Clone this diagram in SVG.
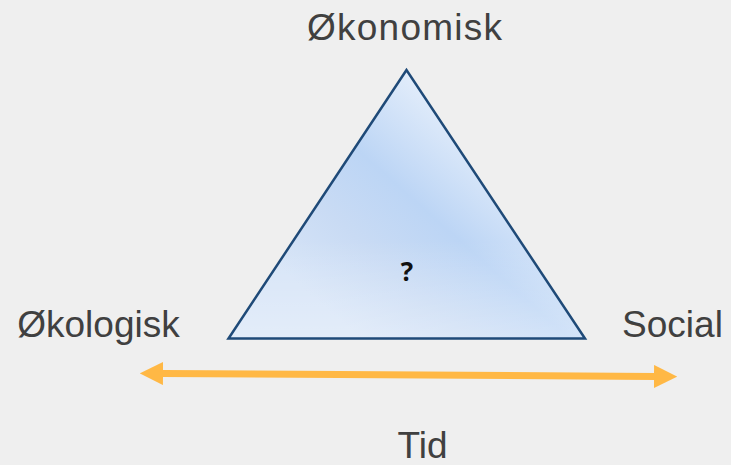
<svg xmlns="http://www.w3.org/2000/svg" width="731" height="465" viewBox="0 0 731 465">
<style>
.lbl{font-family:"Liberation Sans",Arial,sans-serif;font-size:37px;fill:#404040}
.q{font-family:"Open Sans","Liberation Sans",Arial,sans-serif;font-size:26px;font-weight:bold;fill:#111}
</style>
<defs>
<linearGradient id="tg2" gradientUnits="userSpaceOnUse" x1="465" y1="110" x2="305" y2="290">
<stop offset="0" stop-color="#e6effb"/>
<stop offset="0.42" stop-color="#bcd5f5"/>
<stop offset="0.7" stop-color="#c9dbf4"/>
<stop offset="1" stop-color="#d6e4f7"/>
</linearGradient>
<linearGradient id="fade" gradientUnits="userSpaceOnUse" x1="0" y1="240" x2="0" y2="338">
<stop offset="0" stop-color="#ffffff" stop-opacity="0"/>
<stop offset="1" stop-color="#ffffff" stop-opacity="0.32"/>
</linearGradient>
<marker id="ah" viewBox="0 0 10 10" refX="0" refY="5" markerWidth="3.3" markerHeight="3.3" orient="auto-start-reverse" markerUnits="strokeWidth">
<path d="M0,0 L10,5 L0,10 z" fill="#ffb845"/>
</marker>
</defs>
<rect width="731" height="465" fill="#efefef"/>
<g id="connectors">
<line x1="163" y1="373.5" x2="654" y2="376.5" stroke="#ffb845" stroke-width="7" marker-start="url(#ah)" marker-end="url(#ah)"/>
</g>
<g id="triangle">
<polygon points="406.5,70 228.5,338.5 585,338.5" fill="url(#tg2)"/>
<polygon points="406.5,70 228.5,338.5 585,338.5" fill="url(#fade)" stroke="#1f4a78" stroke-width="2.5" stroke-linejoin="miter"/>
<text class="q" x="407" y="281" text-anchor="middle">?</text>
</g>
<g id="okonomisk"><text class="lbl" x="307" y="40" textLength="195" lengthAdjust="spacing">Økonomisk</text></g>
<g id="okologisk"><text class="lbl" x="98.5" y="337" text-anchor="middle">Økologisk</text></g>
<g id="social"><text class="lbl" x="672.5" y="337" text-anchor="middle">Social</text></g>
<g id="tid"><text class="lbl" x="422.5" y="458" text-anchor="middle">Tid</text></g>
</svg>
